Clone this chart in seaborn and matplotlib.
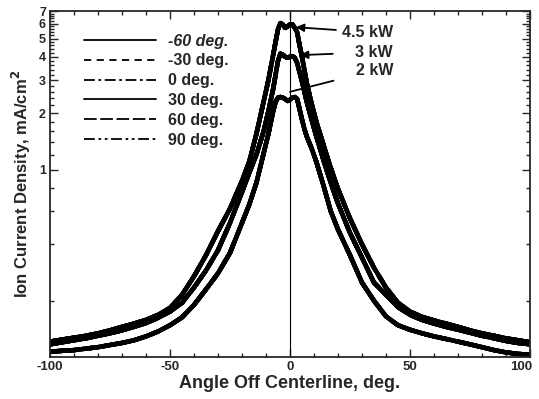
import numpy as np
import pandas as pd
import seaborn as sns
import matplotlib
matplotlib.use("Agg")
import matplotlib.pyplot as plt
from matplotlib.transforms import ScaledTranslation

# Angle off centerline (deg) where the profiles were read
angle_off = [-100, -95, -90, -85, -80, -75, -70, -65, -60, -55, -50, -45, -40, -35, -30, -25, -20, -17, -14, -11,
             -9, -7, -6, -5, -4, -3, -2, -1, 0, 1, 2, 3, 4, 5, 6, 7, 9, 11, 14, 17,
             20, 25, 30, 35, 40, 45, 50, 55, 60, 65, 70, 75, 80, 85, 90, 95, 100]

# Ion current density (mA/cm2) for each discharge power
ion_45kw = [0.121, 0.124, 0.127, 0.130, 0.134, 0.139, 0.145, 0.151, 0.158, 0.168, 0.183, 0.215, 0.27, 0.35, 0.47, 0.62, 0.87, 1.1, 1.55, 2.3,
            3.0, 4.1, 4.8, 5.6, 6.05, 5.95, 5.7, 5.8, 5.95, 5.95, 5.7, 5.4, 4.6, 4.0, 3.4, 2.9, 2.25, 1.8, 1.35, 1.02,
            0.79, 0.55, 0.40, 0.30, 0.235, 0.195, 0.175, 0.164, 0.157, 0.151, 0.145, 0.139, 0.134, 0.130, 0.126, 0.123, 0.120]
ion_3kw = [0.117, 0.120, 0.123, 0.126, 0.130, 0.134, 0.139, 0.145, 0.152, 0.162, 0.175, 0.195, 0.235, 0.29, 0.372, 0.52, 0.76, 0.96, 1.2, 1.6,
           2.05, 2.7, 3.2, 3.8, 4.15, 4.1, 4.0, 3.95, 4.0, 4.03, 3.95, 3.7, 3.3, 2.95, 2.6, 2.3, 1.85, 1.5, 1.12, 0.85,
           0.66, 0.46, 0.34, 0.25, 0.215, 0.185, 0.168, 0.158, 0.151, 0.145, 0.140, 0.135, 0.130, 0.126, 0.122, 0.119, 0.117]
ion_2kw = [0.107, 0.108, 0.109, 0.111, 0.113, 0.116, 0.119, 0.123, 0.129, 0.137, 0.148, 0.163, 0.19, 0.23, 0.28, 0.36, 0.52, 0.65, 0.85, 1.22,
           1.55, 2.05, 2.3, 2.42, 2.44, 2.42, 2.38, 2.32, 2.36, 2.42, 2.44, 2.38, 2.1, 1.85, 1.65, 1.5, 1.3, 1.1, 0.82, 0.6,
           0.48, 0.35, 0.25, 0.20, 0.165, 0.148, 0.140, 0.134, 0.129, 0.125, 0.121, 0.117, 0.113, 0.109, 0.106, 0.104, 0.103]

powers = ["4.5 kW", "3 kW", "2 kW"]
probe_angles = ["-60 deg.", "-30 deg.", "0 deg.", "30 deg.", "60 deg.", "90 deg."]

y_major = [1, 2, 3, 4, 5, 6, 7]
y_minor = [0.2, 0.4, 0.6, 0.8, 1.2, 1.4, 1.6, 1.8, 2.2, 2.4, 2.6, 2.8, 3.2, 3.4, 3.6, 3.8,
           4.2, 4.4, 4.6, 4.8, 5.2, 5.4, 5.6, 5.8, 6.2, 6.4, 6.6, 6.8]
x_major = [-100, -50, 0, 50, 100]

# long table: every probe angle traced for every power
rows = []
for pw, vals in zip(powers, [ion_45kw, ion_3kw, ion_2kw]):
    for ang in probe_angles:
        for x, v in zip(angle_off, vals):
            rows.append([pw, ang, x, v])
df = pd.DataFrame(rows, columns=["Power", "Probe", "Angle", "Density"])

sns.set_style("ticks")
plt.rcParams["font.family"] = ["Liberation Sans", "DejaVu Sans"]
plt.rcParams["axes.unicode_minus"] = False

fig = plt.figure(figsize=(5.39, 3.99), dpi=100)
ax = fig.add_axes([0.093, 0.105, 0.890, 0.867])

dash_map = {"-60 deg.": "", "-30 deg.": (4, 3), "0 deg.": (6, 2, 1.5, 2), "30 deg.": "",
            "60 deg.": (7, 2), "90 deg.": (6, 2, 1.5, 2, 1.5, 2)}

sns.lineplot(data=df, x="Angle", y="Density", style="Probe", units="Power", estimator=None,
             dashes=dash_map, color="black", linewidth=3.2, sort=False, ax=ax)

ax.axvline(0, color="black", lw=0.8)

ax.set_yscale("log")
ax.set_xlim(-100, 100)
ax.set_ylim(0.1, 7)
ax.set_xticks(x_major)
ax.set_xticklabels([str(t) for t in x_major], fontweight="bold", fontsize=9.5)
ax.set_xticks(np.arange(-90, 100, 10), minor=True)
ax.set_yticks(y_major)
ax.set_yticklabels([str(t) for t in y_major], fontweight="bold", fontsize=9)
ax.set_yticks(y_minor, minor=True)
ax.yaxis.set_minor_formatter(matplotlib.ticker.NullFormatter())
ax.tick_params(which="both", direction="in", top=True, right=True, width=1)
ax.tick_params(which="major", length=6, pad=3)
ax.tick_params(which="minor", length=3)
for s in ax.spines.values():
    s.set_linewidth(1.3)

# nudge the last x label so it stays inside the figure
last = ax.get_xticklabels()[-1]
last.set_transform(last.get_transform() + ScaledTranslation(-6 / 72, 0, fig.dpi_scale_trans))

ax.set_xlabel("Angle Off Centerline, deg.", fontsize=13, fontweight="bold", labelpad=1)
ax.set_ylabel("Ion Current Density, mA/cm$^\\mathbf{2}$", fontsize=12, fontweight="bold", labelpad=4)

handles, labels = ax.get_legend_handles_labels()
keep = [(h, l) for h, l in zip(handles, labels) if l in probe_angles]
leg = ax.legend([h for h, l in keep], [l for h, l in keep], loc="upper left",
                bbox_to_anchor=(0.07, 0.935), frameon=False, fontsize=11.5,
                handlelength=4.5, handletextpad=0.75, labelspacing=0.3,
                borderaxespad=0, borderpad=0)
for h in leg.get_lines():
    h.set_linewidth(1.3)
for t in leg.get_texts():
    t.set_fontweight("bold")
leg.get_texts()[0].set_style("italic")

# power labels with leader lines
ax.annotate("4.5 kW", xy=(2.5, 5.75), xytext=(43, 5.41), ha="right", va="center",
            fontsize=11.5, fontweight="bold",
            arrowprops=dict(arrowstyle="-|>", color="black", lw=1.3, shrinkA=2, shrinkB=0))
ax.annotate("3 kW", xy=(4.2, 4.08), xytext=(43, 4.23), ha="right", va="center",
            fontsize=11.5, fontweight="bold",
            arrowprops=dict(arrowstyle="-|>", color="black", lw=1.3, shrinkA=14, shrinkB=0))
ax.annotate("2 kW", xy=(0, 2.6), xytext=(43, 3.39), ha="right", va="center",
            fontsize=11.5, fontweight="bold",
            arrowprops=dict(arrowstyle="-", color="black", lw=1.3, shrinkA=14, shrinkB=0))

fig.savefig("out.png", dpi=100)
